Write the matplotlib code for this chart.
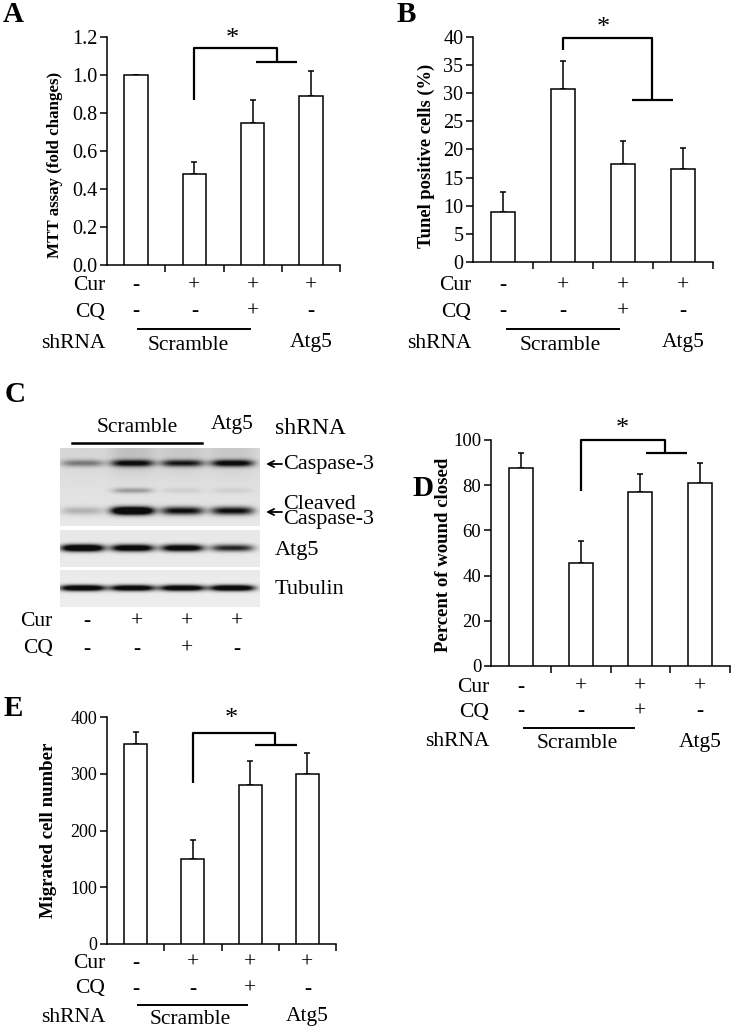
import numpy as np
import matplotlib
matplotlib.use("Agg")
import matplotlib.pyplot as plt
from matplotlib import transforms

# ---------------- data ----------------
categories = ["Control", "Cur", "Cur + CQ", "Cur + shAtg5"]
cur_signs = ["-", "+", "+", "+"]
cq_signs = ["-", "-", "+", "-"]
shrna_groups = ["Scramble", "Atg5"]

mtt_mean = [1.00, 0.48, 0.75, 0.89]
mtt_err = [0.00, 0.06, 0.12, 0.13]
tunel_mean = [8.8, 30.7, 17.4, 16.5]
tunel_err = [3.6, 5.0, 4.1, 3.7]
wound_mean = [87.6, 45.6, 77.0, 81.0]
wound_err = [6.8, 9.6, 8.0, 8.8]
migrated_mean = [352, 149, 280, 299]
migrated_err = [21, 35, 43, 38]

# western blot band intensities per lane (0 = absent, 1 = saturated)
blot_caspase3 = [0.28, 0.62, 0.55, 0.66]
blot_cleaved = [0.14, 1.00, 0.62, 0.62]
blot_cleaved_extra = [0.0, 0.20, 0.05, 0.05]
blot_atg5 = [1.00, 0.86, 0.82, 0.58]
blot_tubulin = [0.92, 0.86, 0.88, 0.92]

# ---------------- figure setup ----------------
W, H, DPI = 733, 1029, 100
SERIF = ["Liberation Serif", "DejaVu Serif"]
plt.rcParams["font.family"] = SERIF

fig = plt.figure(figsize=(W / DPI, H / DPI), dpi=DPI)
PX = transforms.Affine2D().scale(1.0 / W, -1.0 / H).translate(0, 1) + fig.transFigure


def add_ax(l, t, r, b):
    return fig.add_axes([l / W, 1 - b / H, (r - l) / W, (b - t) / H])


ROW_FS = 15.5


def bar_panel(ax, means, errs, ylim, yticks, fmt, tick_fs, ylabel, ylab_fs,
              ylab_xy, bracket, star, rows_y, scr_line, scr_text_x):
    x = np.arange(len(categories))
    ax.bar(x, means, width=0.4, color="white", edgecolor="black",
           linewidth=1.1, zorder=3)
    ax.errorbar(x, means, yerr=[np.zeros(len(errs)), errs], fmt="none",
                ecolor="black", elinewidth=1.1, capsize=2.2, capthick=1.1,
                zorder=2)
    ax.set_xlim(-0.5, len(categories) - 0.5)
    ax.set_ylim(*ylim)
    ax.set_yticks(yticks)
    ax.set_yticklabels([fmt.format(v) for v in yticks], fontsize=tick_fs)
    ax.set_xticks(np.arange(len(categories)) + 0.5)
    ax.set_xticklabels([])
    ax.tick_params(axis="both", direction="out", length=5, width=1.1,
                   color="black", pad=2)
    for s in ["top", "right"]:
        ax.spines[s].set_visible(False)
    for s in ["left", "bottom"]:
        ax.spines[s].set_linewidth(1.1)
    ax.set_ylabel(ylabel, fontsize=ylab_fs, fontweight="bold")
    ax.yaxis.set_label_coords(*ylab_xy)

    # significance bracket
    (x_left, y_low, y_top, x_mid, y_mid, x_h0, x_h1) = bracket
    kw = dict(color="black", lw=1.6, clip_on=False, solid_capstyle="butt")
    ax.plot([x_left, x_left, x_mid, x_mid], [y_low, y_top, y_top, y_mid], **kw)
    ax.plot([x_h0, x_h1], [y_mid, y_mid], **kw)
    ax.text(star[0], star[1], "*", fontsize=19, ha="center", va="center",
            clip_on=False)

    # condition rows under the axis
    bt = transforms.blended_transform_factory(ax.transData, PX)
    y_cur, y_cq, y_line, y_sh = rows_y
    ax.text(-0.53, y_cur, "Cur", transform=bt, ha="right", va="center",
            fontsize=ROW_FS)
    ax.text(-0.53, y_cq, "CQ", transform=bt, ha="right", va="center",
            fontsize=ROW_FS)
    ax.text(-0.53, y_sh, "shRNA", transform=bt, ha="right", va="center",
            fontsize=ROW_FS)
    for i in range(len(categories)):
        ax.text(i, y_cur, cur_signs[i], transform=bt, ha="center",
                va="center", fontsize=ROW_FS)
        ax.text(i, y_cq, cq_signs[i], transform=bt, ha="center",
                va="center", fontsize=ROW_FS)
    ax.plot(scr_line, [y_line, y_line], transform=bt, color="black",
            lw=1.4, clip_on=False)
    ax.text(scr_text_x, y_sh + 2, shrna_groups[0], transform=bt,
            ha="center", va="center", fontsize=ROW_FS)
    ax.text(len(categories) - 1, y_sh, shrna_groups[1], transform=bt,
            ha="center", va="center", fontsize=ROW_FS)


# ---------------- panel A ----------------
axA = add_ax(107, 37, 340, 265)
bar_panel(axA, mtt_mean, mtt_err, (0, 1.2), np.arange(0, 1.21, 0.2), "{:.1f}",
          14.5, "MTT assay (fold changes)", 12.2, (-0.19, 0.44),
          (1, 0.87, 1.14, 2.42, 1.07, 2.06, 2.76), (1.66, 1.19),
          (286, 312, 329, 343), [0.03, 1.95], 0.9)

# ---------------- panel B ----------------
axB = add_ax(473, 37, 713, 262)
bar_panel(axB, tunel_mean, tunel_err, (0, 40), np.arange(0, 41, 5), "{:.0f}",
          14.5, "Tunel positive cells (%)", 13.3, (-0.158, 0.47),
          (1, 37.6, 39.9, 2.48, 28.8, 2.15, 2.83), (1.67, 41.6),
          (286, 312, 329, 343), [0.07, 1.93], 0.95)

# ---------------- panel D ----------------
axD = add_ax(491, 440, 730, 666)
bar_panel(axD, wound_mean, wound_err, (0, 100), np.arange(0, 101, 20), "{:.0f}",
          13.5, "Percent of wound closed", 13.5, (-0.163, 0.49),
          (1, 77.4, 100, 2.42, 94.3, 2.1, 2.78), (1.70, 105.0),
          (687, 712, 728, 742), [0.05, 1.9], 0.95)

# ---------------- panel E ----------------
axE = add_ax(107, 717, 336, 944)
bar_panel(axE, migrated_mean, migrated_err, (0, 400), np.arange(0, 401, 100),
          "{:.0f}", 13.0, "Migrated cell number", 13.5, (-0.218, 0.5),
          (1, 284, 372, 2.43, 351, 2.08, 2.82), (1.68, 396),
          (963, 989, 1005, 1017), [0.05, 1.95], 0.95)

# ---------------- panel C (western blot) ----------------
XL, XR = -0.45, 3.55


def blot_image(height, bands, bg_top, bg_bot, gain=1.0, smear=None):
    xs = np.linspace(XL, XR, 400)
    ys = np.arange(height * 4) / 4.0 + 0.125
    X, Y = np.meshgrid(xs, ys)
    bg = bg_top + (bg_bot - bg_top) * Y / height
    dark = np.zeros_like(X)
    for yc, hh, intens, hw in bands:
        for i, v in enumerate(intens):
            dark += gain * v * np.exp(-np.abs((X - i) / hw) ** 4) * \
                np.exp(-((Y - yc) / hh) ** 2)
    if smear is not None:
        y0, y1, vals = smear
        for i, v in enumerate(vals):
            dark += v * np.exp(-np.abs((X - i) / 0.46) ** 4) * \
                np.exp(-((Y - y0) / y1) ** 2)
    return bg * (1 - np.clip(dark, 0, 0.95))


def blot_axes(t, b, img):
    ax = add_ax(60, t, 260, b)
    ax.imshow(img, cmap="gray", vmin=0, vmax=1, aspect="auto",
              extent=(XL, XR, b - t, 0), interpolation="bilinear")
    ax.set_xlim(XL, XR)
    ax.axis("off")
    return ax


img1 = blot_image(78, [(16, 3.4, blot_caspase3, 0.43),
                       (63, 4.0, blot_cleaved, 0.43),
                       (43, 2.6, blot_cleaved_extra, 0.40)],
                  0.85, 0.91, gain=1.6,
                  smear=(6, 20, [0.02, 0.12, 0.08, 0.08]))
axC1 = blot_axes(448, 526, img1)
img2 = blot_image(37, [(18, 3.5, blot_atg5, 0.43)], 0.91, 0.92, gain=1.5)
axC2 = blot_axes(530, 567, img2)
img3 = blot_image(37, [(18, 3.0, blot_tubulin, 0.45)], 0.92, 0.93, gain=1.5)
axC3 = blot_axes(570, 607, img3)

btC = transforms.blended_transform_factory(axC1.transData, PX)
axC1.text(1.09, 427, shrna_groups[0], transform=btC, ha="center",
          va="center", fontsize=ROW_FS)
axC1.plot([-0.21, 2.39], [443, 443], transform=btC, color="black", lw=1.8,
          clip_on=False)
axC1.text(3.0, 425, shrna_groups[1], transform=btC, ha="center",
          va="center", fontsize=ROW_FS)
fig.text(275, 428, "shRNA", transform=PX, ha="left", va="center", fontsize=17)

BL_FS = 16
arrow_kw = dict(arrowstyle="->", lw=1.3, color="black", mutation_scale=11,
                shrinkA=0, shrinkB=0)
for ya in (464, 512):
    fig.add_artist(matplotlib.patches.FancyArrowPatch(
        (282, ya), (266, ya), transform=PX, **arrow_kw))
fig.text(283, 465, "Caspase-3", transform=PX, ha="left", va="center",
         fontsize=BL_FS)
fig.text(283, 512, "Cleaved\nCaspase-3", transform=PX, ha="left",
         va="center", fontsize=BL_FS, linespacing=0.72)
fig.text(275, 550, "Atg5", transform=PX, ha="left", va="center",
         fontsize=BL_FS)
fig.text(275, 590, "Tubulin", transform=PX, ha="left", va="center",
         fontsize=BL_FS)

btC3 = transforms.blended_transform_factory(axC3.transData, PX)
axC3.text(-0.6, 622, "Cur", transform=btC3, ha="right", va="center",
          fontsize=ROW_FS, clip_on=False)
axC3.text(-0.6, 649, "CQ", transform=btC3, ha="right", va="center",
          fontsize=ROW_FS, clip_on=False)
for i in range(len(categories)):
    axC3.text(i + 0.08, 622, cur_signs[i], transform=btC3, ha="center",
              va="center", fontsize=ROW_FS, clip_on=False)
    axC3.text(i + 0.08, 649, cq_signs[i], transform=btC3, ha="center",
              va="center", fontsize=ROW_FS, clip_on=False)

# ---------------- panel letters ----------------
for lab, (px, py) in {"A": (13, 15), "B": (406, 15), "C": (15, 394),
                      "D": (423, 489), "E": (13, 708)}.items():
    fig.text(px, py, lab, transform=PX, ha="center", va="center",
             fontsize=21, fontweight="bold")

fig.savefig("out.png", dpi=DPI)
